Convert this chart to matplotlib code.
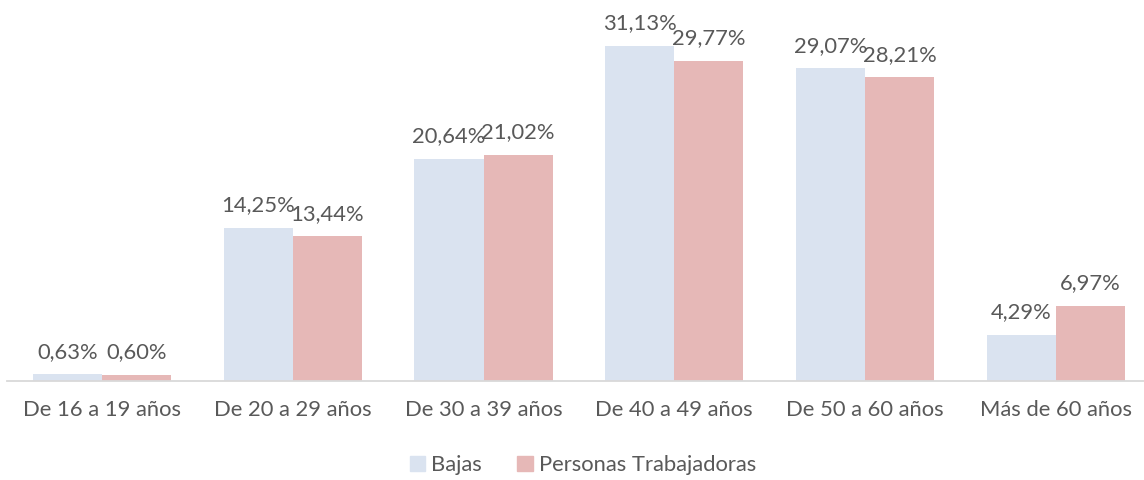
import numpy as np
import matplotlib.pyplot as plt
from matplotlib.patches import Patch

categories = ["De 16 a 19 años", "De 20 a 29 años", "De 30 a 39 años",
              "De 40 a 49 años", "De 50 a 60 años", "Más de 60 años"]
bajas = [0.63, 14.25, 20.64, 31.13, 29.07, 4.29]
trabajadoras = [0.60, 13.44, 21.02, 29.77, 28.21, 6.97]
series_names = ["Bajas", "Personas Trabajadoras"]

C_BAJAS = "#dae3f0"
C_TRAB = "#e6b8b7"
TEXT = "#595959"
FS = 15.8

plt.rcParams["font.family"] = ["Lato", "DejaVu Sans"]

fig = plt.figure(figsize=(11.44, 4.80), dpi=100)
ax = fig.add_axes([6.6 / 1144, 99 / 480, 1144.6 / 1144, 376.6 / 480])

x = np.arange(len(categories))
w = 0.362
b1 = ax.bar(x - w / 2, bajas, w, color=C_BAJAS)
b2 = ax.bar(x + w / 2, trabajadoras, w, color=C_TRAB)


def fmt(v):
    return f"{v:.2f}%".replace(".", ",")


for bars, vals in ((b1, bajas), (b2, trabajadoras)):
    for r, v in zip(bars, vals):
        ax.annotate(fmt(v), xy=(r.get_x() + r.get_width() / 2, v),
                    xytext=(0, 9), textcoords="offset points",
                    ha="center", va="bottom", fontsize=FS, color=TEXT)

ax.set_xlim(-0.5, len(categories) - 0.5)
ax.set_ylim(0, 35)
ax.set_xticks(x)
ax.set_xticklabels(categories, fontsize=FS, color=TEXT)
ax.tick_params(axis="x", length=0, pad=14)
ax.set_yticks([])
for s in ["top", "right", "left"]:
    ax.spines[s].set_visible(False)
ax.spines["bottom"].set_color("#d9d9d9")
ax.spines["bottom"].set_linewidth(1.3)

handles = [Patch(color=C_BAJAS), Patch(color=C_TRAB)]
fig.legend(handles, series_names, loc="center", bbox_to_anchor=(583 / 1144, 1 - 465 / 480),
           ncol=2, frameon=False, fontsize=FS, labelcolor=TEXT,
           handlelength=0.7, handleheight=0.7, handletextpad=0.3, columnspacing=1.6)

fig.savefig("out.png", dpi=100)
